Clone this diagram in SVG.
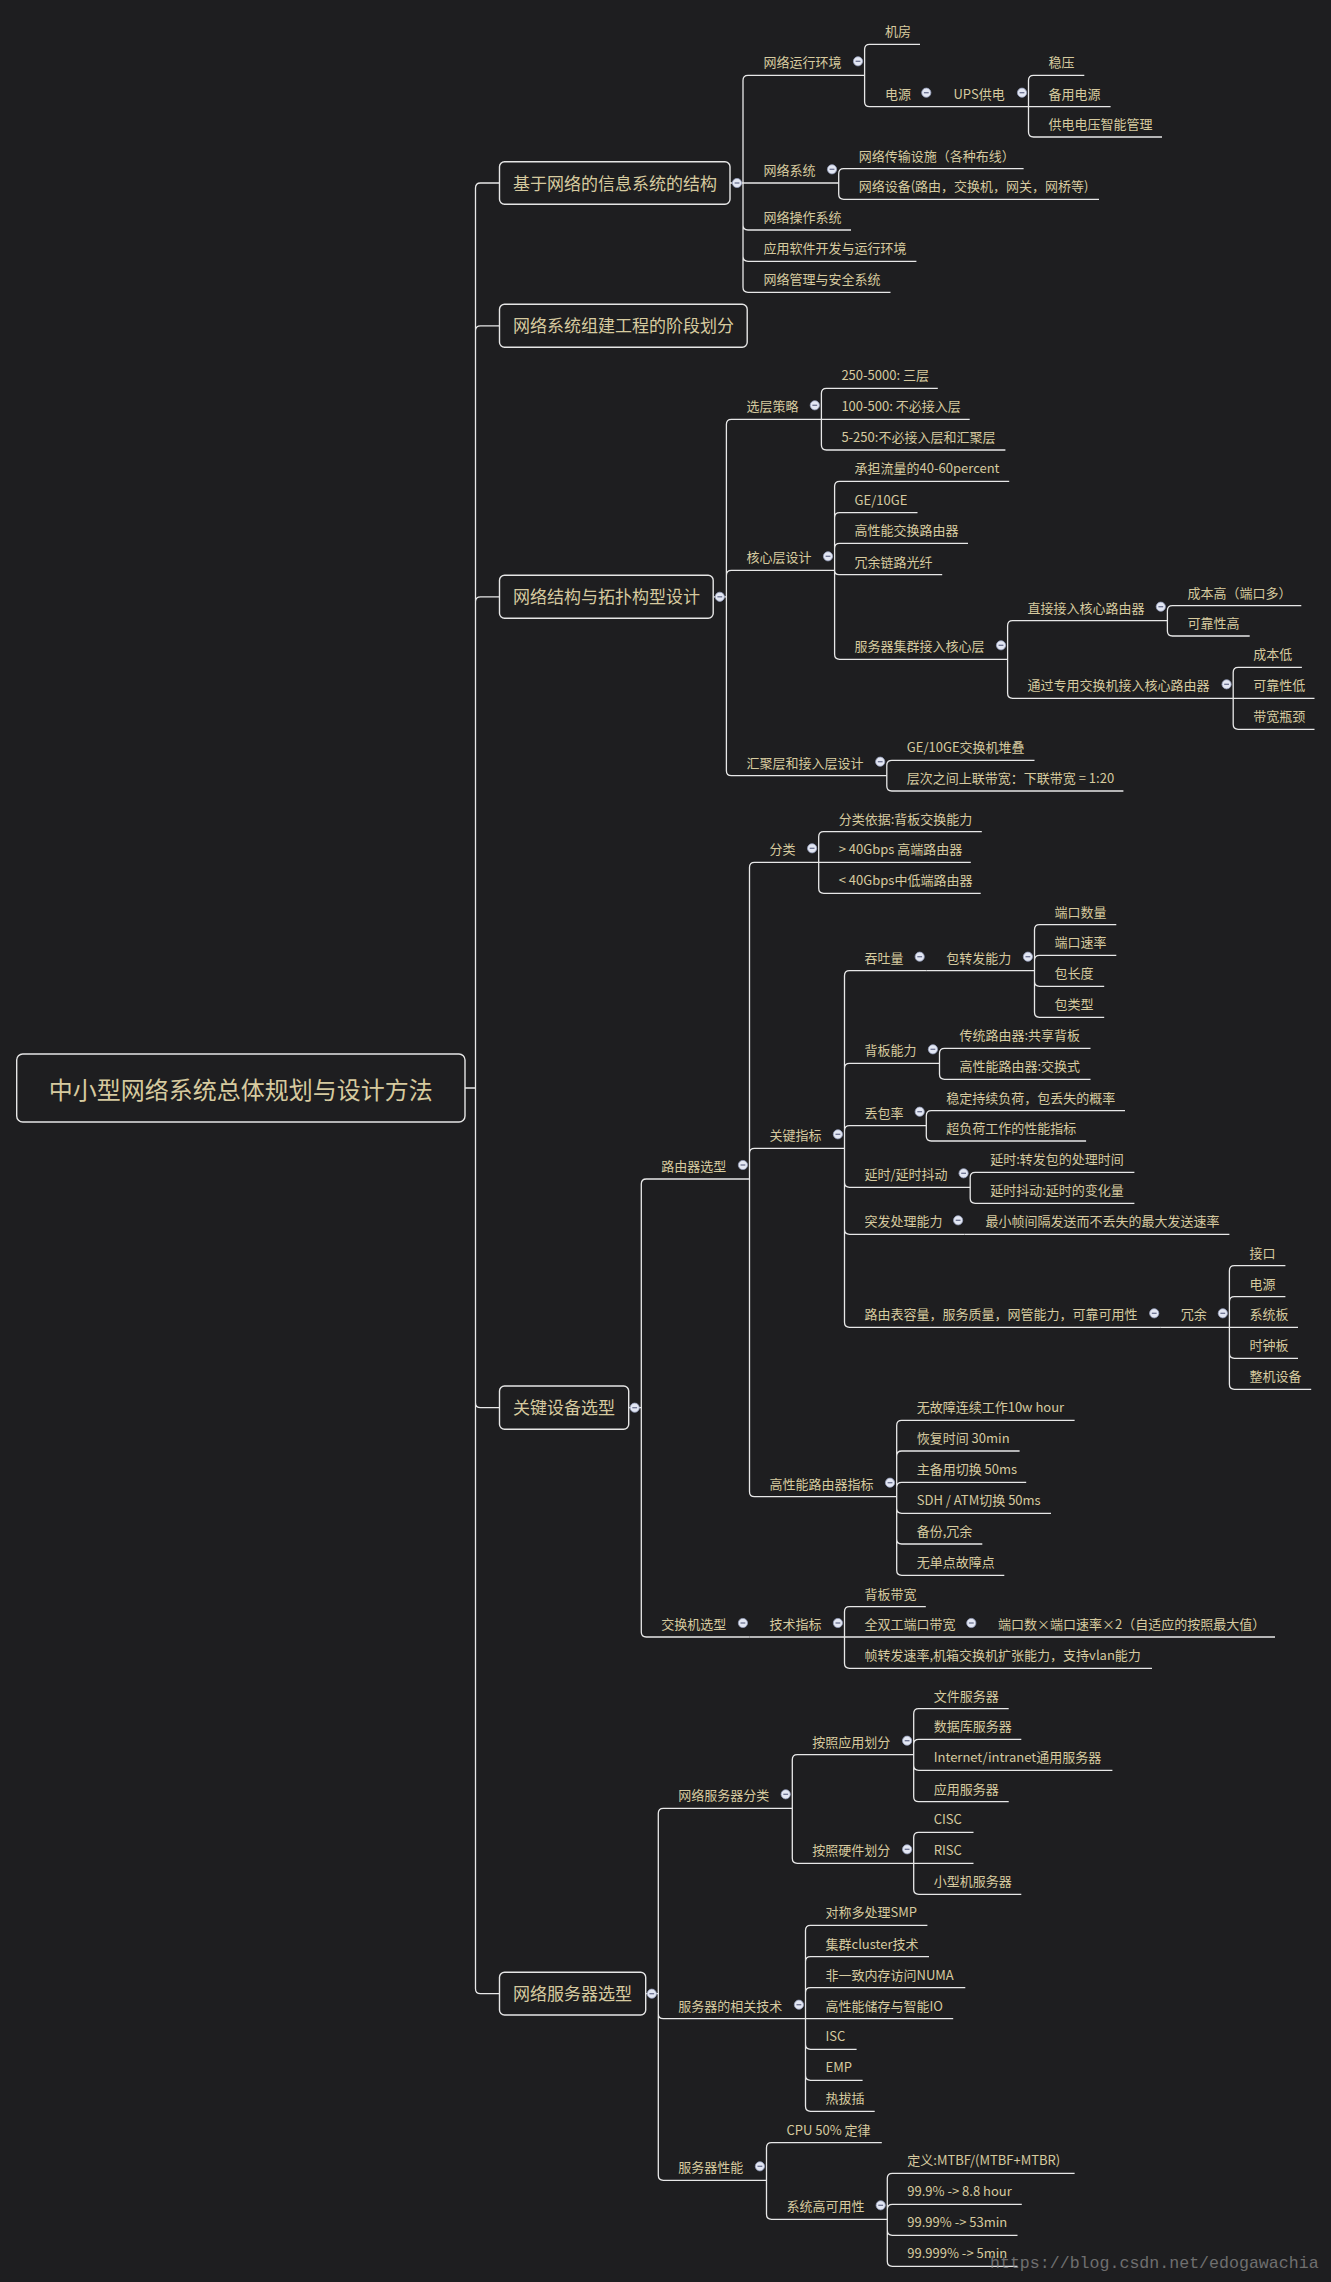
<svg xmlns="http://www.w3.org/2000/svg" xmlns:xlink="http://www.w3.org/1999/xlink" width="1331" height="2282" viewBox="0 0 1331 2282">
<style>
text{font-family:"Noto Sans CJK SC","Noto Sans",sans-serif;fill:#d6ca9f}
.t{font-size:13px}
.l1{font-size:17px}
.root{font-size:24px}
.box{fill:#1e1e20;stroke:#e6e6e6;stroke-width:1.4}
.c path{fill:none;stroke:#e8e8e8;stroke-width:1.3}
.wm{font-family:"Liberation Mono",monospace;font-size:16.6px;fill:#8a8a8a;opacity:0.75}
</style>
<defs>
<g id="d"><circle r="4.6" fill="#e3e7f3" stroke="#97a0bd" stroke-width="0.8"/><line x1="-2.4" y1="0" x2="2.4" y2="0" stroke="#6b7190" stroke-width="1.3"/></g>
</defs>
<rect width="1331" height="2282" fill="#1e1e20"/>
<g class="c" id="connectors">
<path d="M465,1088H475.5M475.5,1088V188Q475.5,183 480.5,183H499.5M475.5,1088V330.8Q475.5,325.8 480.5,325.8H499.5M475.5,1088V601.8Q475.5,596.8 480.5,596.8H499.5M475.5,1088V1402.7Q475.5,1407.7 480.5,1407.7H499.5M475.5,1088V1988.7Q475.5,1993.7 480.5,1993.7H499.5"/>
<path d="M730,183H743M713.2,596.8H726.4M628.7,1407.7H641.3M645.7,1993.7H658.3"/>
<path d="M743,183V80.3Q743,75.3 748,75.3H864.6M743,183H838.7M743,183V225Q743,230 748,230H851M743,183V256.3Q743,261.3 748,261.3H916.4M743,183V287.3Q743,292.3 748,292.3H890.5"/>
<path d="M864.6,75.3V49.3Q864.6,44.3 869.6,44.3H920M864.6,75.3V101.7Q864.6,106.7 869.6,106.7H933M933,106.7H1028.5"/>
<path d="M1028.5,106.7V80.3Q1028.5,75.3 1033.5,75.3H1084.3M1028.5,106.7H1110.6M1028.5,106.7V132Q1028.5,137 1033.5,137H1162"/>
<path d="M838.7,183.3V173.7Q838.7,168.7 843.7,168.7H1023.6M838.7,183.3V194.3Q838.7,199.3 843.7,199.3H1099"/>
<path d="M726.4,596.8V424.3Q726.4,419.3 731.4,419.3H821.4M726.4,596.8V575.3Q726.4,570.3 731.4,570.3H834.6M726.4,596.8V770.7Q726.4,775.7 731.4,775.7H886.8"/>
<path d="M821.4,419.3V393.3Q821.4,388.3 826.4,388.3H937.8M821.4,419.3H969.7M821.4,419.3V445Q821.4,450 826.4,450H1005.4"/>
<path d="M834.6,570.3V486.3Q834.6,481.3 839.6,481.3H1009.2M834.6,570.3V517.7Q834.6,512.7 839.6,512.7H917.5M834.6,570.3V548.3Q834.6,543.3 839.6,543.3H968M834.6,570.3Q834.6,574.7 839,574.7H942.2M834.6,570.3V654.3Q834.6,659.3 839.6,659.3H1007.6"/>
<path d="M1007.6,659.3V625.7Q1007.6,620.7 1012.6,620.7H1167.4M1007.6,659.3V693.3Q1007.6,698.3 1012.6,698.3H1233.2"/>
<path d="M1167.4,620.7V610.7Q1167.4,605.7 1172.4,605.7H1301.3M1167.4,620.7V631Q1167.4,636 1172.4,636H1249.7"/>
<path d="M1233.2,698.3V672.3Q1233.2,667.3 1238.2,667.3H1301.9M1233.2,698.3H1314.5M1233.2,698.3V724.3Q1233.2,729.3 1238.2,729.3H1314.5"/>
<path d="M886.8,775.7V765.3Q886.8,760.3 891.8,760.3H1034.5M886.8,775.7V786Q886.8,791 891.8,791H1123.4"/>
<path d="M641.3,1407.7V1184Q641.3,1179 646.3,1179H749.5M641.3,1407.7V1632Q641.3,1637 646.3,1637H749.5"/>
<path d="M749.5,1179V867.3Q749.5,862.3 754.5,862.3H818.7M749.5,1179V1153.3Q749.5,1148.3 754.5,1148.3H844.5M749.5,1179V1491.7Q749.5,1496.7 754.5,1496.7H896.7"/>
<path d="M818.7,862.3V836.7Q818.7,831.7 823.7,831.7H981.8M818.7,862.3H970.8M818.7,862.3V888.3Q818.7,893.3 823.7,893.3H980.7"/>
<path d="M844.5,1148.3V975.7Q844.5,970.7 849.5,970.7H926.3M844.5,1148.3V1068.3Q844.5,1063.3 849.5,1063.3H939.5M844.5,1148.3V1130.7Q844.5,1125.7 849.5,1125.7H926.3M844.5,1148.3V1182.3Q844.5,1187.3 849.5,1187.3H970.2M844.5,1148.3V1229.3Q844.5,1234.3 849.5,1234.3H964.7M844.5,1148.3V1322.3Q844.5,1327.3 849.5,1327.3H1160.8"/>
<path d="M926.3,970.7H1034.5M1034.5,970.7V929.7Q1034.5,924.7 1039.5,924.7H1116.3M1034.5,970.7V960.3Q1034.5,955.3 1039.5,955.3H1116.3M1034.5,970.7V981.3Q1034.5,986.3 1039.5,986.3H1104.2M1034.5,970.7V1012.3Q1034.5,1017.3 1039.5,1017.3H1104.2"/>
<path d="M939.5,1063.3V1053.3Q939.5,1048.3 944.5,1048.3H1090.5M939.5,1063.3V1074.3Q939.5,1079.3 944.5,1079.3H1090.5"/>
<path d="M926.3,1125.7V1115.7Q926.3,1110.7 931.3,1110.7H1125M926.3,1125.7V1136Q926.3,1141 931.3,1141H1086.1"/>
<path d="M970.2,1187.3V1177.3Q970.2,1172.3 975.2,1172.3H1134.4M970.2,1187.3V1198.3Q970.2,1203.3 975.2,1203.3H1134.4"/>
<path d="M964.7,1234.3H1229.4M1160.8,1327.3H1229.4"/>
<path d="M1229.4,1327.3V1270.7Q1229.4,1265.7 1234.4,1265.7H1285.4M1229.4,1327.3V1301.7Q1229.4,1296.7 1234.4,1296.7H1285.4M1229.4,1327.3H1298M1229.4,1327.3V1353.3Q1229.4,1358.3 1234.4,1358.3H1298M1229.4,1327.3V1384.3Q1229.4,1389.3 1234.4,1389.3H1311.2"/>
<path d="M896.7,1496.7V1425.3Q896.7,1420.3 901.7,1420.3H1074.6M896.7,1496.7V1456Q896.7,1451 901.7,1451H1019.6M896.7,1496.7V1487.3Q896.7,1482.3 901.7,1482.3H1026.2M896.7,1496.7V1508.3Q896.7,1513.3 901.7,1513.3H1051M896.7,1496.7V1539Q896.7,1544 901.7,1544H982.3M896.7,1496.7V1570.3Q896.7,1575.3 901.7,1575.3H1004.3"/>
<path d="M749.5,1637H844.5M844.5,1637V1611.7Q844.5,1606.7 849.5,1606.7H925.8M844.5,1637H977.9M844.5,1637V1663.3Q844.5,1668.3 849.5,1668.3H1152M977.9,1637H1275"/>
<path d="M658.3,1993.7V1813.3Q658.3,1808.3 663.3,1808.3H792.3M658.3,1993.7V2013.7Q658.3,2018.7 663.3,2018.7H805.5M658.3,1993.7V2175.3Q658.3,2180.3 663.3,2180.3H766.5"/>
<path d="M792.3,1808.3V1759.7Q792.3,1754.7 797.3,1754.7H913.7M792.3,1808.3V1858.3Q792.3,1863.3 797.3,1863.3H913.7"/>
<path d="M913.7,1754.7V1713.7Q913.7,1708.7 918.7,1708.7H1008.7M913.7,1754.7V1744.3Q913.7,1739.3 918.7,1739.3H1021.3M913.7,1754.7V1765.3Q913.7,1770.3 918.7,1770.3H1112.4M913.7,1754.7V1796.7Q913.7,1801.7 918.7,1801.7H1008.7"/>
<path d="M913.7,1863.3V1837.3Q913.7,1832.3 918.7,1832.3H973.5M913.7,1863.3H973.5M913.7,1863.3V1889.3Q913.7,1894.3 918.7,1894.3H1021.3"/>
<path d="M805.5,2018.7V1930.3Q805.5,1925.3 810.5,1925.3H927.4M805.5,2018.7V1961.7Q805.5,1956.7 810.5,1956.7H929M805.5,2018.7V1992.7Q805.5,1987.7 810.5,1987.7H965.3M805.5,2018.7H953.2M805.5,2018.7V2044.3Q805.5,2049.3 810.5,2049.3H856.6M805.5,2018.7V2075.3Q805.5,2080.3 810.5,2080.3H862.6M805.5,2018.7V2106.3Q805.5,2111.3 810.5,2111.3H874.7"/>
<path d="M766.5,2180.3V2147.7Q766.5,2142.7 771.5,2142.7H881.8M766.5,2180.3V2214.3Q766.5,2219.3 771.5,2219.3H887.3"/>
<path d="M887.3,2219.3V2178.3Q887.3,2173.3 892.3,2173.3H1074.6M887.3,2219.3V2209.3Q887.3,2204.3 892.3,2204.3H1021.8M887.3,2219.3V2230.3Q887.3,2235.3 892.3,2235.3H1017.5M887.3,2219.3V2261.3Q887.3,2266.3 892.3,2266.3H1017.5"/>
</g>

<g id="root"><rect class="box" x="16.7" y="1054" width="448.3" height="68" rx="6"/><text class="root" x="240.8" y="1099" text-anchor="middle">中小型网络系统总体规划与设计方法</text></g>

<g id="n1"><rect class="box" x="499.5" y="161.7" width="230.5" height="42.6" rx="5"/><text class="l1" x="513" y="189.5">基于网络的信息系统的结构</text><use href="#d" x="737" y="183"/></g>
<g id="n1-1"><text class="t" x="763.5" y="67.3">网络运行环境</text><use href="#d" x="858" y="61.3"/></g>
<g id="n1-1-1"><text class="t" x="885" y="36.3">机房</text></g>
<g id="n1-1-2"><text class="t" x="885" y="98.7">电源</text><use href="#d" x="926.3" y="92.7"/></g>
<g id="n1-1-2-1"><text class="t" x="953.5" y="98.7">UPS供电</text><use href="#d" x="1022" y="92.7"/></g>
<g id="n1-1-2-1-1"><text class="t" x="1048.5" y="67.3">稳压</text></g>
<g id="n1-1-2-1-2"><text class="t" x="1048.5" y="98.7">备用电源</text></g>
<g id="n1-1-2-1-3"><text class="t" x="1048.5" y="129">供电电压智能管理</text></g>
<g id="n1-2"><text class="t" x="763.5" y="175.3">网络系统</text><use href="#d" x="832" y="169.3"/></g>
<g id="n1-2-1"><text class="t" x="858.7" y="160.7">网络传输设施（各种布线）</text></g>
<g id="n1-2-2"><text class="t" x="858.7" y="191.3">网络设备(路由，交换机，网关，网桥等)</text></g>
<g id="n1-3"><text class="t" x="763.5" y="222">网络操作系统</text></g>
<g id="n1-4"><text class="t" x="763.5" y="253.3">应用软件开发与运行环境</text></g>
<g id="n1-5"><text class="t" x="763.5" y="284.3">网络管理与安全系统</text></g>

<g id="n2"><rect class="box" x="499.5" y="304.3" width="247.7" height="43" rx="5"/><text class="l1" x="513" y="332.3">网络系统组建工程的阶段划分</text></g>

<g id="n3"><rect class="box" x="499.5" y="575.3" width="213.7" height="43" rx="5"/><text class="l1" x="513" y="603.3">网络结构与拓扑构型设计</text><use href="#d" x="719.8" y="596.8"/></g>
<g id="n3-1"><text class="t" x="746.4" y="411.3">选层策略</text><use href="#d" x="814.8" y="405.3"/></g>
<g id="n3-1-1"><text class="t" x="841.4" y="380.3">250-5000: 三层</text></g>
<g id="n3-1-2"><text class="t" x="841.4" y="411.3">100-500: 不必接入层</text></g>
<g id="n3-1-3"><text class="t" x="841.4" y="442">5-250:不必接入层和汇聚层</text></g>
<g id="n3-2"><text class="t" x="746.4" y="562.3">核心层设计</text><use href="#d" x="828" y="556.3"/></g>
<g id="n3-2-1"><text class="t" x="854.6" y="473.3">承担流量的40-60percent</text></g>
<g id="n3-2-2"><text class="t" x="854.6" y="504.7">GE/10GE</text></g>
<g id="n3-2-3"><text class="t" x="854.6" y="535.3">高性能交换路由器</text></g>
<g id="n3-2-4"><text class="t" x="854.6" y="566.7">冗余链路光纤</text></g>
<g id="n3-2-5"><text class="t" x="854.6" y="651.3">服务器集群接入核心层</text><use href="#d" x="1001" y="645.3"/></g>
<g id="n3-2-5-1"><text class="t" x="1027.6" y="612.7">直接接入核心路由器</text><use href="#d" x="1160.8" y="606.7"/></g>
<g id="n3-2-5-1-1"><text class="t" x="1187.4" y="597.7">成本高（端口多）</text></g>
<g id="n3-2-5-1-2"><text class="t" x="1187.4" y="628">可靠性高</text></g>
<g id="n3-2-5-2"><text class="t" x="1027.6" y="690.3">通过专用交换机接入核心路由器</text><use href="#d" x="1226.6" y="684.3"/></g>
<g id="n3-2-5-2-1"><text class="t" x="1253.2" y="659.3">成本低</text></g>
<g id="n3-2-5-2-2"><text class="t" x="1253.2" y="690.3">可靠性低</text></g>
<g id="n3-2-5-2-3"><text class="t" x="1253.2" y="721.3">带宽瓶颈</text></g>
<g id="n3-3"><text class="t" x="746.4" y="767.7">汇聚层和接入层设计</text><use href="#d" x="880.2" y="761.7"/></g>
<g id="n3-3-1"><text class="t" x="906.8" y="752.3">GE/10GE交换机堆叠</text></g>
<g id="n3-3-2"><text class="t" x="906.8" y="783">层次之间上联带宽：下联带宽 = 1:20</text></g>

<g id="n4"><rect class="box" x="499.5" y="1386" width="129.2" height="43.3" rx="5"/><text class="l1" x="513" y="1414.2">关键设备选型</text><use href="#d" x="634.7" y="1407.7"/></g>
<g id="n4-1"><text class="t" x="661.3" y="1171">路由器选型</text><use href="#d" x="742.9" y="1165"/></g>
<g id="n4-1-1"><text class="t" x="769.5" y="854.3">分类</text><use href="#d" x="812.1" y="848.3"/></g>
<g id="n4-1-1-1"><text class="t" x="838.7" y="823.7">分类依据:背板交换能力</text></g>
<g id="n4-1-1-2"><text class="t" x="838.7" y="854.3">&gt; 40Gbps 高端路由器</text></g>
<g id="n4-1-1-3"><text class="t" x="838.7" y="885.3">&lt; 40Gbps中低端路由器</text></g>
<g id="n4-1-2"><text class="t" x="769.5" y="1140.3">关键指标</text><use href="#d" x="837.9" y="1134.3"/></g>
<g id="n4-1-2-1"><text class="t" x="864.5" y="962.7">吞吐量</text><use href="#d" x="919.7" y="956.7"/></g>
<g id="n4-1-2-1-1"><text class="t" x="946.3" y="962.7">包转发能力</text><use href="#d" x="1027.9" y="956.7"/></g>
<g id="n4-1-2-1-1-1"><text class="t" x="1054.5" y="916.7">端口数量</text></g>
<g id="n4-1-2-1-1-2"><text class="t" x="1054.5" y="947.3">端口速率</text></g>
<g id="n4-1-2-1-1-3"><text class="t" x="1054.5" y="978.3">包长度</text></g>
<g id="n4-1-2-1-1-4"><text class="t" x="1054.5" y="1009.3">包类型</text></g>
<g id="n4-1-2-2"><text class="t" x="864.5" y="1055.3">背板能力</text><use href="#d" x="932.9" y="1049.3"/></g>
<g id="n4-1-2-2-1"><text class="t" x="959.5" y="1040.3">传统路由器:共享背板</text></g>
<g id="n4-1-2-2-2"><text class="t" x="959.5" y="1071.3">高性能路由器:交换式</text></g>
<g id="n4-1-2-3"><text class="t" x="864.5" y="1117.7">丢包率</text><use href="#d" x="919.7" y="1111.7"/></g>
<g id="n4-1-2-3-1"><text class="t" x="946.3" y="1102.7">稳定持续负荷，包丢失的概率</text></g>
<g id="n4-1-2-3-2"><text class="t" x="946.3" y="1133">超负荷工作的性能指标</text></g>
<g id="n4-1-2-4"><text class="t" x="864.5" y="1179.3">延时/延时抖动</text><use href="#d" x="963.6" y="1173.3"/></g>
<g id="n4-1-2-4-1"><text class="t" x="990.2" y="1164.3">延时:转发包的处理时间</text></g>
<g id="n4-1-2-4-2"><text class="t" x="990.2" y="1195.3">延时抖动:延时的变化量</text></g>
<g id="n4-1-2-5"><text class="t" x="864.5" y="1226.3">突发处理能力</text><use href="#d" x="958.1" y="1220.3"/></g>
<g id="n4-1-2-5-1"><text class="t" x="985.5" y="1226.3">最小帧间隔发送而不丢失的最大发送速率</text></g>
<g id="n4-1-2-6"><text class="t" x="864.5" y="1319.3">路由表容量，服务质量，网管能力，可靠可用性</text><use href="#d" x="1154.2" y="1313.3"/></g>
<g id="n4-1-2-6-1"><text class="t" x="1180.8" y="1319.3">冗余</text><use href="#d" x="1222.8" y="1313.3"/></g>
<g id="n4-1-2-6-1-1"><text class="t" x="1249.4" y="1257.7">接口</text></g>
<g id="n4-1-2-6-1-2"><text class="t" x="1249.4" y="1288.7">电源</text></g>
<g id="n4-1-2-6-1-3"><text class="t" x="1249.4" y="1319.3">系统板</text></g>
<g id="n4-1-2-6-1-4"><text class="t" x="1249.4" y="1350.3">时钟板</text></g>
<g id="n4-1-2-6-1-5"><text class="t" x="1249.4" y="1381.3">整机设备</text></g>
<g id="n4-1-3"><text class="t" x="769.5" y="1488.7">高性能路由器指标</text><use href="#d" x="890" y="1482.7"/></g>
<g id="n4-1-3-1"><text class="t" x="916.7" y="1412.3">无故障连续工作10w hour</text></g>
<g id="n4-1-3-2"><text class="t" x="916.7" y="1443">恢复时间 30min</text></g>
<g id="n4-1-3-3"><text class="t" x="916.7" y="1474.3">主备用切换 50ms</text></g>
<g id="n4-1-3-4"><text class="t" x="916.7" y="1505.3">SDH / ATM切换 50ms</text></g>
<g id="n4-1-3-5"><text class="t" x="916.7" y="1536">备份,冗余</text></g>
<g id="n4-1-3-6"><text class="t" x="916.7" y="1567.3">无单点故障点</text></g>
<g id="n4-2"><text class="t" x="661.3" y="1629">交换机选型</text><use href="#d" x="742.9" y="1623"/></g>
<g id="n4-2-1"><text class="t" x="769.5" y="1629">技术指标</text><use href="#d" x="837.9" y="1623"/></g>
<g id="n4-2-1-1"><text class="t" x="864.5" y="1598.7">背板带宽</text></g>
<g id="n4-2-1-2"><text class="t" x="864.5" y="1629">全双工端口带宽</text><use href="#d" x="971.3" y="1623"/></g>
<g id="n4-2-1-2-1"><text class="t" x="998" y="1629">端口数×端口速率×2（自适应的按照最大值）</text></g>
<g id="n4-2-1-3"><text class="t" x="864.5" y="1660.3">帧转发速率,机箱交换机扩张能力，支持vlan能力</text></g>

<g id="n5"><rect class="box" x="499.5" y="1972.3" width="146.2" height="42.7" rx="5"/><text class="l1" x="513" y="2000.2">网络服务器选型</text><use href="#d" x="651.8" y="1993.7"/></g>
<g id="n5-1"><text class="t" x="678.3" y="1800.3">网络服务器分类</text><use href="#d" x="785.7" y="1794.3"/></g>
<g id="n5-1-1"><text class="t" x="812.3" y="1746.7">按照应用划分</text><use href="#d" x="907.1" y="1740.7"/></g>
<g id="n5-1-1-1"><text class="t" x="933.7" y="1700.7">文件服务器</text></g>
<g id="n5-1-1-2"><text class="t" x="933.7" y="1731.3">数据库服务器</text></g>
<g id="n5-1-1-3"><text class="t" x="933.7" y="1762.3">Internet/intranet通用服务器</text></g>
<g id="n5-1-1-4"><text class="t" x="933.7" y="1793.7">应用服务器</text></g>
<g id="n5-1-2"><text class="t" x="812.3" y="1855.3">按照硬件划分</text><use href="#d" x="907.1" y="1849.3"/></g>
<g id="n5-1-2-1"><text class="t" x="933.7" y="1824.3">CISC</text></g>
<g id="n5-1-2-2"><text class="t" x="933.7" y="1855.3">RISC</text></g>
<g id="n5-1-2-3"><text class="t" x="933.7" y="1886.3">小型机服务器</text></g>
<g id="n5-2"><text class="t" x="678.3" y="2010.7">服务器的相关技术</text><use href="#d" x="798.9" y="2004.7"/></g>
<g id="n5-2-1"><text class="t" x="825.5" y="1917.3">对称多处理SMP</text></g>
<g id="n5-2-2"><text class="t" x="825.5" y="1948.7">集群cluster技术</text></g>
<g id="n5-2-3"><text class="t" x="825.5" y="1979.7">非一致内存访问NUMA</text></g>
<g id="n5-2-4"><text class="t" x="825.5" y="2010.7">高性能储存与智能IO</text></g>
<g id="n5-2-5"><text class="t" x="825.5" y="2041.3">ISC</text></g>
<g id="n5-2-6"><text class="t" x="825.5" y="2072.3">EMP</text></g>
<g id="n5-2-7"><text class="t" x="825.5" y="2103.3">热拔插</text></g>
<g id="n5-3"><text class="t" x="678.3" y="2172.3">服务器性能</text><use href="#d" x="759.9" y="2166.3"/></g>
<g id="n5-3-1"><text class="t" x="786.5" y="2134.7">CPU 50% 定律</text></g>
<g id="n5-3-2"><text class="t" x="786.5" y="2211.3">系统高可用性</text><use href="#d" x="880.7" y="2205.3"/></g>
<g id="n5-3-2-1"><text class="t" x="907.3" y="2165.3">定义:MTBF/(MTBF+MTBR)</text></g>
<g id="n5-3-2-2"><text class="t" x="907.3" y="2196.3">99.9% -&gt; 8.8 hour</text></g>
<g id="n5-3-2-3"><text class="t" x="907.3" y="2227.3">99.99% -&gt; 53min</text></g>
<g id="n5-3-2-4"><text class="t" x="907.3" y="2258.3">99.999% -&gt; 5min</text></g>

<text class="wm" x="990" y="2268">https://blog.csdn.net/edogawachia</text>
</svg>
